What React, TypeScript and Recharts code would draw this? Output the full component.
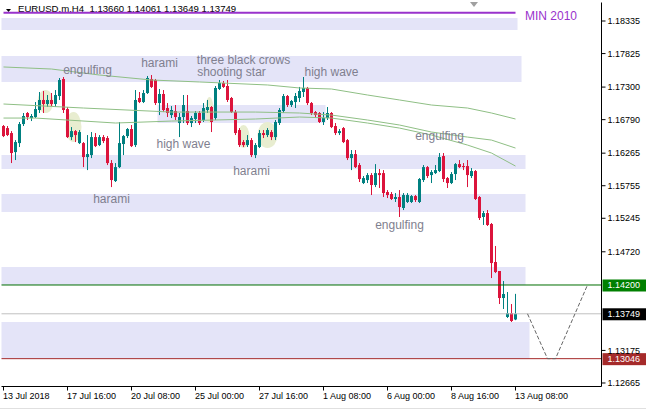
import React from 'react';
import {
  ComposedChart,
  Bar,
  Line,
  XAxis,
  YAxis,
  ReferenceArea,
  ReferenceLine,
  ReferenceDot,
} from 'recharts';

const FONT = '"Liberation Sans", Arial, sans-serif';

// ---- Candles (H4 bars, index 0 = 13 Jul 2018 00:00) ----
const OPEN = [
  1.1669, 1.16658, 1.1658, 1.16282, 1.16423, 1.16721, 1.16894, 1.16815, 1.16831, 1.16941,
  1.17098, 1.17035, 1.17098, 1.17035, 1.1716, 1.17427, 1.16956, 1.16517, 1.16611, 1.16423,
  1.16423, 1.16204, 1.16235, 1.16517, 1.16392, 1.16517, 1.16502, 1.1611, 1.15828, 1.16047,
  1.16408, 1.16533, 1.16643, 1.16392, 1.17129, 1.17066, 1.17207, 1.17427, 1.17411, 1.1705,
  1.17192, 1.16972, 1.16862, 1.16925, 1.16737, 1.16831, 1.16925, 1.16737, 1.168, 1.16894,
  1.16784, 1.16941, 1.16988, 1.16815, 1.1727, 1.17364, 1.17317, 1.17129, 1.16909, 1.16627,
  1.16439, 1.16392, 1.1647, 1.16235, 1.16361, 1.1658, 1.16549, 1.16596, 1.16517, 1.16737,
  1.16925, 1.1716, 1.17019, 1.17066, 1.17129, 1.17223, 1.17286, 1.1705, 1.16909, 1.16894,
  1.16753, 1.16815, 1.16894, 1.1669, 1.1658, 1.16658, 1.1647, 1.16188, 1.16251, 1.16079,
  1.15797, 1.15844, 1.15922, 1.15766, 1.15953, 1.15953, 1.15656, 1.15625, 1.15547, 1.15578,
  1.15406, 1.155, 1.155, 1.15593, 1.155, 1.15844, 1.16047, 1.15922, 1.15953, 1.15985,
  1.1622, 1.15875, 1.15797, 1.15938, 1.16094, 1.16063, 1.16063, 1.15907, 1.15985, 1.15578,
  1.15265, 1.15327, 1.15155, 1.1456, 1.14419, 1.13996, 1.13699, 1.13761, 1.1366,
];
const HIGH = [
  1.16706, 1.1669, 1.16611, 1.1647, 1.16753, 1.16894, 1.16909, 1.16878, 1.17066, 1.17223,
  1.17239, 1.17176, 1.17207, 1.17254, 1.17442, 1.17458, 1.16988, 1.16674, 1.16627, 1.16627,
  1.16439, 1.16549, 1.16596, 1.1658, 1.16549, 1.16549, 1.16533, 1.16157, 1.1611, 1.16753,
  1.16549, 1.16658, 1.16706, 1.17254, 1.17223, 1.17254, 1.17474, 1.17489, 1.17427, 1.1727,
  1.17254, 1.1705, 1.17003, 1.17019, 1.16894, 1.17176, 1.17176, 1.16847, 1.16925, 1.16925,
  1.1705, 1.17098, 1.17003, 1.17317, 1.17411, 1.17395, 1.17411, 1.17145, 1.16941, 1.16658,
  1.1647, 1.16549, 1.16502, 1.16423, 1.16627, 1.16627, 1.16658, 1.16627, 1.16784, 1.16972,
  1.17192, 1.17176, 1.17098, 1.17207, 1.17302, 1.17458, 1.17302, 1.17066, 1.16925, 1.16909,
  1.16909, 1.16988, 1.16909, 1.16737, 1.16643, 1.16674, 1.16486, 1.16314, 1.16314, 1.1611,
  1.15907, 1.15953, 1.15953, 1.16094, 1.16016, 1.16, 1.15687, 1.15656, 1.1564, 1.15687,
  1.1564, 1.1564, 1.15609, 1.15609, 1.15875, 1.16079, 1.16063, 1.16, 1.16079, 1.16267,
  1.16267, 1.15891, 1.15969, 1.1611, 1.16157, 1.1611, 1.16157, 1.16032, 1.16, 1.15593,
  1.15359, 1.15374, 1.15171, 1.14811, 1.14419, 1.14262, 1.1409, 1.13902, 1.14061,
];
const LOW = [
  1.16517, 1.16533, 1.1611, 1.16157, 1.16361, 1.1669, 1.16784, 1.16768, 1.16815, 1.16894,
  1.16894, 1.16988, 1.17003, 1.16988, 1.17098, 1.16894, 1.16502, 1.1647, 1.16439, 1.16408,
  1.16047, 1.16, 1.16188, 1.16361, 1.16376, 1.16423, 1.16079, 1.15734, 1.15813, 1.16032,
  1.16235, 1.16502, 1.16361, 1.16361, 1.1705, 1.1705, 1.17192, 1.17286, 1.17019, 1.16862,
  1.16909, 1.16831, 1.16815, 1.16784, 1.16517, 1.16737, 1.16706, 1.16674, 1.16737, 1.16706,
  1.16753, 1.16894, 1.16596, 1.16784, 1.17254, 1.17286, 1.17066, 1.16894, 1.16549, 1.16361,
  1.16361, 1.16361, 1.16204, 1.16188, 1.16345, 1.16502, 1.16517, 1.1647, 1.1647, 1.16706,
  1.16894, 1.16988, 1.16988, 1.16972, 1.17066, 1.17145, 1.17019, 1.16862, 1.16831, 1.16737,
  1.16706, 1.16784, 1.16658, 1.16549, 1.16549, 1.16423, 1.16157, 1.16, 1.16032, 1.15813,
  1.15781, 1.15797, 1.15609, 1.15734, 1.15719, 1.15578, 1.15562, 1.15531, 1.155, 1.15265,
  1.15374, 1.15484, 1.15484, 1.155, 1.15484, 1.15813, 1.15875, 1.15797, 1.15938, 1.15969,
  1.15813, 1.15719, 1.15781, 1.15844, 1.16032, 1.16, 1.15734, 1.15875, 1.15531, 1.15218,
  1.1514, 1.15124, 1.14309, 1.14387, 1.13902, 1.13824, 1.13683, 1.1362, 1.13649,
];
const CLOSE = [
  1.16533, 1.16549, 1.16267, 1.16439, 1.16721, 1.16847, 1.16831, 1.16847, 1.16956, 1.17098,
  1.17035, 1.17098, 1.17035, 1.17176, 1.17411, 1.16941, 1.16517, 1.16611, 1.16549, 1.16596,
  1.16204, 1.16251, 1.16517, 1.16376, 1.16517, 1.16455, 1.1611, 1.15844, 1.16047, 1.16423,
  1.16533, 1.16643, 1.16376, 1.17098, 1.17066, 1.17207, 1.17442, 1.17302, 1.1705, 1.17192,
  1.16941, 1.16894, 1.16941, 1.16831, 1.16831, 1.17019, 1.16737, 1.16815, 1.16894, 1.16737,
  1.16972, 1.16988, 1.16753, 1.17286, 1.17364, 1.17302, 1.17098, 1.16909, 1.1658, 1.16392,
  1.16392, 1.1647, 1.16235, 1.16392, 1.1658, 1.16549, 1.16627, 1.16517, 1.16753, 1.16941,
  1.1716, 1.17019, 1.17082, 1.1716, 1.17239, 1.17286, 1.1705, 1.16894, 1.16862, 1.16753,
  1.16815, 1.16894, 1.16674, 1.1658, 1.16611, 1.16439, 1.16188, 1.16251, 1.16047, 1.1586,
  1.15875, 1.15922, 1.15766, 1.15953, 1.15922, 1.1564, 1.15609, 1.15547, 1.15578, 1.15421,
  1.15609, 1.15609, 1.15593, 1.15531, 1.1586, 1.16047, 1.15907, 1.15969, 1.16, 1.16204,
  1.1586, 1.15797, 1.15938, 1.16094, 1.16047, 1.16047, 1.15922, 1.15985, 1.15547, 1.15249,
  1.15327, 1.1514, 1.14544, 1.14403, 1.13996, 1.14059, 1.13761, 1.13636, 1.13749,
];

const SLOTS = 150; // chart has empty space to the right of the last bar

// ---- Axis ticks ----
const X_TICKS = [0, 16, 32, 48, 64, 80, 96, 112, 128];
const X_LABELS = [
  '13 Jul 2018', '17 Jul 16:00', '20 Jul 08:00', '25 Jul 00:00', '27 Jul 16:00',
  '1 Aug 08:00', '6 Aug 00:00', '8 Aug 16:00', '13 Aug 08:00',
];
const Y_TICKS = [1.18335, 1.17825, 1.173, 1.1679, 1.16265, 1.15755, 1.15245, 1.1472, 1.13175, 1.12665];
const Y_DOMAIN = [1.1261, 1.18625];

// ---- Moving averages (knots) ----
const MA_UPPER = [
  [0, 1.17615], [12, 1.17583], [24, 1.17489], [37, 1.17411], [49, 1.1738], [66, 1.17333],
  [74, 1.17286], [82, 1.1727], [91, 1.17176], [99, 1.17098], [107, 1.17019], [116, 1.16972],
  [122, 1.16894], [128, 1.168],
];
const MA_MIDDLE = [
  [0, 1.17035], [20, 1.16972], [42, 1.16909], [63, 1.16909], [74, 1.16894], [82, 1.16862],
  [91, 1.16784], [99, 1.16706], [107, 1.16596], [116, 1.16517], [122, 1.1647], [128, 1.16345],
];
const MA_LOWER = [
  [0, 1.16815], [8, 1.16815], [28, 1.16737], [42, 1.16768], [63, 1.168], [74, 1.16831],
  [82, 1.16815], [91, 1.16737], [99, 1.16658], [107, 1.16549], [116, 1.16392], [122, 1.16267],
  [128, 1.16063],
];

// ---- Projection path ----
const PROJECTION = [[131, 1.13749], [136, 1.13046], [138, 1.13046], [146, 1.142]];

// ---- Zones (price bands) ----
const ZONES = [
  { from: undefined, to: 128, top: 1.18382, bottom: 1.18194 },
  { from: undefined, to: 129, top: 1.17787, bottom: 1.1738 },
  { from: 39, to: 80, top: 1.17019, bottom: 1.16737 },
  { from: undefined, to: 130, top: 1.16236, bottom: 1.16016 },
  { from: undefined, to: 130, top: 1.15625, bottom: 1.15343 },
  { from: undefined, to: 130, top: 1.14482, bottom: 1.142 },
  { from: undefined, to: 131, top: 1.1362, bottom: 1.13046 },
];

// ---- Pattern highlight blobs ----
const BLOBS = [
  { from: 9, to: 12, top: 1.17254, bottom: 1.16894 },
  { from: 16, to: 19, top: 1.16909, bottom: 1.16439 },
  { from: 51, to: 52, top: 1.17145, bottom: 1.16737 },
  { from: 59, to: 61, top: 1.16706, bottom: 1.16345 },
  { from: 64, to: 68, top: 1.16753, bottom: 1.16345 },
];

// ---- Pattern labels ----
const PATTERN_TEXT = ['engulfing', 'harami', 'three black crows', 'shooting star', 'high wave', 'high wave', 'harami', 'harami', 'engulfing', 'engulfing'];
const PATTERN_AT = [21, 39, 60, 57, 82, 45, 62, 27, 109, 99];
const PATTERN_PRICE = [1.17568, 1.17677, 1.17732, 1.17545, 1.17536, 1.16408, 1.15985, 1.15547, 1.16533, 1.1514];

// ---- Horizontal levels ----
const MIN_2010 = 1.18465;
const LEVEL_GREEN = 1.142;
const LEVEL_LAST = 1.13749;
const LEVEL_RED = 1.13046;

const BULL = '#008080';
const BEAR = '#dc143c';
const ZONE_FILL = '#e4e4f8';
const MA_COLOR = '#8fbf85';
const TEXT_GRAY = '#7f7f8f';

type Row = { [k: string]: any };
const rows: Row[] = Array.from({ length: SLOTS }, (_, i) => {
  const r: Row = { i };
  if (i < OPEN.length) {
    r.o = OPEN[i];
    r.h = HIGH[i];
    r.l = LOW[i];
    r.c = CLOSE[i];
    r.range = [LOW[i], HIGH[i]];
  }
  return r;
});
MA_UPPER.forEach(([i, v]) => (rows[i].maU = v));
MA_MIDDLE.forEach(([i, v]) => (rows[i].maM = v));
MA_LOWER.forEach(([i, v]) => (rows[i].maL = v));
PROJECTION.forEach(([i, v]) => (rows[i].proj = v));

const Candle = (props: any) => {
  const { x, y, width, height, payload } = props;
  if (!payload || payload.o === undefined || !isFinite(y) || !isFinite(height)) return null;
  const top = Math.min(y, y + height);
  const bot = Math.max(y, y + height);
  const span = payload.h - payload.l;
  const yOf = (v: number) => (span > 0 ? top + ((payload.h - v) / span) * (bot - top) : top);
  const cx = x + width / 2;
  const up = payload.c >= payload.o;
  const color = up ? BULL : BEAR;
  const yO = yOf(payload.o);
  const yC = yOf(payload.c);
  const bTop = Math.min(yO, yC);
  const bH = Math.max(1, Math.abs(yO - yC));
  return (
    <g>
      <line x1={cx} x2={cx} y1={top} y2={bot} stroke={color} strokeWidth={1} />
      <rect x={cx - 1.5} y={bTop} width={3} height={bH} fill={color} />
    </g>
  );
};

const XTick = (props: any) => {
  const { x, y, payload } = props;
  const idx = X_TICKS.indexOf(payload.value);
  return (
    <text x={x - 0.5} y={y} dy="0.71em" fontSize={9} fontFamily={FONT} fill="#000" textAnchor="start">
      {idx >= 0 ? X_LABELS[idx] : ''}
    </text>
  );
};

const priceTag = (text: string, bg: string) => (props: any) => {
  const vb = props.viewBox || {};
  const right = (vb.x || 0) + (vb.width || 0);
  const yy = vb.y || 0;
  return (
    <g>
      <rect x={right + 1} y={yy - 5.5} width={44} height={12} fill={bg} />
      <text x={right + 6} y={yy} dy="0.36em" fill="#fff" fontSize={9} fontFamily={FONT}>
        {text}
      </text>
    </g>
  );
};

const blobShape = (p: any) => (
  <ellipse
    cx={p.x + p.width / 2}
    cy={p.y + p.height / 2}
    rx={Math.abs(p.width) / 2}
    ry={Math.abs(p.height) / 2}
    fill="#e8edd0"
  />
);

export default function App() {
  return (
    <div style={{ position: 'absolute', left: 0, top: 0, width: 646, height: 409, background: '#fff', overflow: 'hidden' }}>
      <svg width={646} height={20} style={{ position: 'absolute', left: 0, top: 0 }}>
        <polygon points="6,9 11,9 8.5,12" fill="#000" />
        <text x={18} y={12} fontSize={9.6} fontFamily={FONT} fill="#000" style={{ whiteSpace: 'pre' }}>
          {'EURUSD.m,H4  1.13660 1.14061 1.13649 1.13749'}
        </text>
        <polygon points="470,2 478,2 474,7" fill="#a0a0a0" />
      </svg>
      <div style={{ position: 'absolute', left: 0, top: 0 }}>
        <ComposedChart
          width={646}
          height={409}
          data={rows}
          margin={{ top: 2.5, right: 0.5, bottom: 0, left: 1.5 }}
          barCategoryGap={0}
          barGap={0}
        >
          <XAxis
            dataKey="i"
            type="category"
            height={22.5}
            ticks={X_TICKS}
            interval={0}
            tick={<XTick />}
            tickSize={4}
            tickLine={{ stroke: '#000' }}
            axisLine={{ stroke: '#000' }}
          />
          <XAxis
            xAxisId="top"
            dataKey="i"
            orientation="top"
            height={0}
            tick={false}
            tickLine={false}
            axisLine={{ stroke: '#000' }}
          />
          <YAxis
            orientation="right"
            type="number"
            width={44}
            domain={Y_DOMAIN}
            allowDataOverflow
            ticks={Y_TICKS}
            interval={0}
            tickFormatter={(v: number) => v.toFixed(5)}
            tick={{ fontSize: 9, fill: '#000', fontFamily: FONT }}
            tickSize={4}
            tickLine={{ stroke: '#000' }}
            axisLine={{ stroke: '#000' }}
          />
          <YAxis
            yAxisId="left"
            orientation="left"
            type="number"
            width={0}
            domain={Y_DOMAIN}
            tick={false}
            tickLine={false}
            axisLine={{ stroke: '#000' }}
          />

          {ZONES.map((z, k) => (
            <ReferenceArea
              key={'z' + k}
              x1={z.from}
              x2={z.to}
              y1={z.bottom}
              y2={z.top}
              fill={ZONE_FILL}
              fillOpacity={1}
              stroke="none"
              ifOverflow="visible"
            />
          ))}
          {BLOBS.map((b, k) => (
            <ReferenceArea
              key={'b' + k}
              x1={b.from}
              x2={b.to}
              y1={b.bottom}
              y2={b.top}
              shape={blobShape}
              ifOverflow="visible"
            />
          ))}

          <ReferenceLine
            segment={[{ x: 0, y: MIN_2010 }, { x: 128, y: MIN_2010 }]}
            stroke="#9932cc"
            strokeWidth={2}
            ifOverflow="visible"
          />
          <ReferenceLine y={LEVEL_GREEN} stroke="#006e00" strokeWidth={1} ifOverflow="visible" label={priceTag('1.14200', '#008000')} />
          <ReferenceLine y={LEVEL_LAST} stroke="#c0c0c0" strokeWidth={1} ifOverflow="visible" label={priceTag('1.13749', '#000000')} />
          <ReferenceLine y={LEVEL_RED} stroke="#a52a2a" strokeWidth={1} ifOverflow="visible" label={priceTag('1.13046', '#a52a2a')} />

          <Line dataKey="maU" stroke={MA_COLOR} strokeWidth={1} dot={false} activeDot={false} connectNulls isAnimationActive={false} />
          <Line dataKey="maM" stroke={MA_COLOR} strokeWidth={1} dot={false} activeDot={false} connectNulls isAnimationActive={false} />
          <Line dataKey="maL" stroke={MA_COLOR} strokeWidth={1} dot={false} activeDot={false} connectNulls isAnimationActive={false} />
          <Line dataKey="proj" stroke="#666666" strokeWidth={1} strokeDasharray="4 2" dot={false} activeDot={false} connectNulls isAnimationActive={false} />

          <Bar dataKey="range" shape={Candle} isAnimationActive={false} />

          {PATTERN_TEXT.map((t, k) => (
            <ReferenceDot
              key={'t' + k}
              x={PATTERN_AT[k]}
              y={PATTERN_PRICE[k]}
              r={0}
              ifOverflow="visible"
              shape={(p: any) => (
                <text x={p.cx} y={p.cy} dy="0.35em" textAnchor="middle" fontSize={12} fontFamily={FONT} fill={TEXT_GRAY}>
                  {t}
                </text>
              )}
            />
          ))}
          <ReferenceDot
            x={130}
            y={1.18424}
            r={0}
            ifOverflow="visible"
            shape={(p: any) => (
              <text x={p.cx + 1.5} y={p.cy} dy="0.35em" textAnchor="start" fontSize={12} fontFamily={FONT} fill="#9932cc">
                MIN 2010
              </text>
            )}
          />
        </ComposedChart>
      </div>
      <div style={{ position: 'absolute', left: 0, top: 408, width: 646, height: 1, background: '#e0e0e0' }} />
    </div>
  );
}
